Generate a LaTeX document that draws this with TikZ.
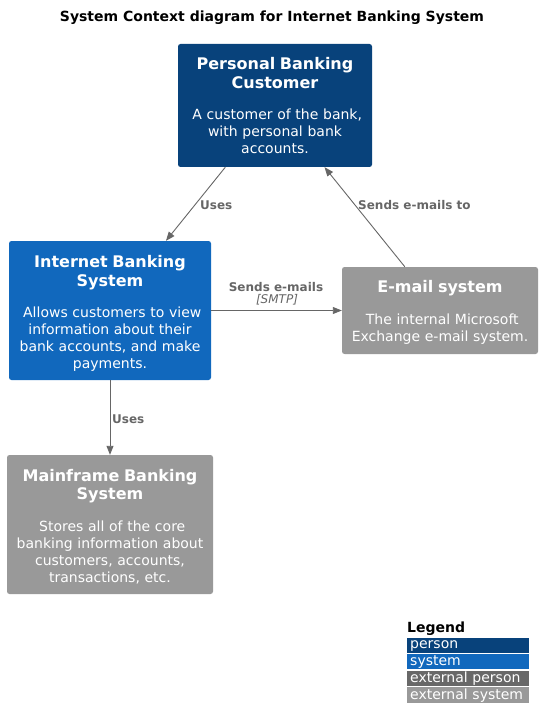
\documentclass[tikz,border=0pt]{standalone}
\usepackage{fontspec}
\setmainfont{DejaVu Sans}
\usetikzlibrary{arrows.meta}
\definecolor{personc}{HTML}{08427B}
\definecolor{systemc}{HTML}{1168BD}
\definecolor{extpersonc}{HTML}{686868}
\definecolor{extsystemc}{HTML}{999999}
\definecolor{linec}{HTML}{666666}
\newcommand{\boxttl}{\fontsize{16}{18.5}\selectfont\bfseries}
\newcommand{\boxdsc}{\fontsize{14}{16.8}\selectfont\mdseries}
\newcommand{\gapsep}{\vspace{15pt}}
\newcommand{\lsp}{\hspace*{4.5pt}}
\tikzset{
  c4box/.style={draw=none, rounded corners=2.5pt, text=white, align=center, inner xsep=4pt, inner ysep=0pt, font=\boxdsc},
  rel/.style={draw=linec, line width=0.9pt, -{Triangle[length=9pt,width=7pt]}},
  rellbl/.style={text=linec, font=\fontsize{12}{14}\selectfont\bfseries, inner sep=0pt},
  legbar/.style={minimum width=122pt, minimum height=15.5pt, inner sep=0pt, text=white, font=\fontsize{14}{16}\selectfont, text width=116pt, align=left}
}
\begin{document}
\begin{tikzpicture}[x=1pt,y=-1pt]
\useasboundingbox (0,0) rectangle (551,727);
\node[font=\fontsize{14}{17}\selectfont\bfseries, inner sep=0pt] (title) at (272,18) {System Context diagram for Internet Banking System};

\node[c4box, fill=personc, minimum width=194pt, minimum height=123pt, text width=186pt] (cust) at (275,105.5)
  {{\boxttl Personal Banking\\Customer\par}\gapsep{\boxdsc \lsp A customer of the bank,\\with personal bank\\accounts.\par}};

\node[c4box, fill=systemc, minimum width=202pt, minimum height=139pt, text width=194pt] (ibs) at (110,310.5)
  {{\boxttl Internet Banking\\System\par}\gapsep{\boxdsc \lsp Allows customers to view\\information about their\\bank accounts, and make\\payments.\par}\kern-5.5pt};

\node[c4box, fill=extsystemc, minimum width=196pt, minimum height=87pt, text width=188pt] (mail) at (440,310.5)
  {{\boxttl E-mail system\par}\gapsep{\boxdsc \lsp The internal Microsoft\\Exchange e-mail system.\par}\kern-4pt};

\node[c4box, fill=extsystemc, minimum width=206pt, minimum height=139pt, text width=198pt] (mf) at (110,524.5)
  {{\boxttl Mainframe Banking\\System\par}\gapsep{\boxdsc \lsp Stores all of the core\\banking information about\\customers, accounts,\\transactions, etc.\par}\kern-4pt};

\draw[rel] (cust) -- (ibs);
\draw[rel] (mail) -- (cust);
\draw[rel] (ibs) -- (mail);
\draw[rel] (ibs) -- (mf);

\node[rellbl, anchor=west] (l1) at (200,205) {Uses};
\node[rellbl, anchor=west] (l2) at (358,205) {Sends e-mails to};
\node[rellbl] (l3) at (276,287) {Sends e-mails};
\node[rellbl, font=\fontsize{12}{14}\selectfont\itshape] (l3b) at (277,300) {[SMTP]};
\node[rellbl, anchor=west] (l4) at (112,419) {Uses};

\node[anchor=west, inner sep=0pt, font=\fontsize{14}{16}\selectfont\bfseries] (leg) at (407,629) {Legend};
\node[legbar, fill=personc, anchor=north west] (lp) at (407,637.7) {person};
\node[legbar, fill=systemc, anchor=north west] (ls) at (407,653.7) {system};
\node[legbar, fill=extpersonc, anchor=north west] (lep) at (407,670.7) {external person};
\node[legbar, fill=extsystemc, anchor=north west] (les) at (407,687.2) {external system};
\end{tikzpicture}
\end{document}
